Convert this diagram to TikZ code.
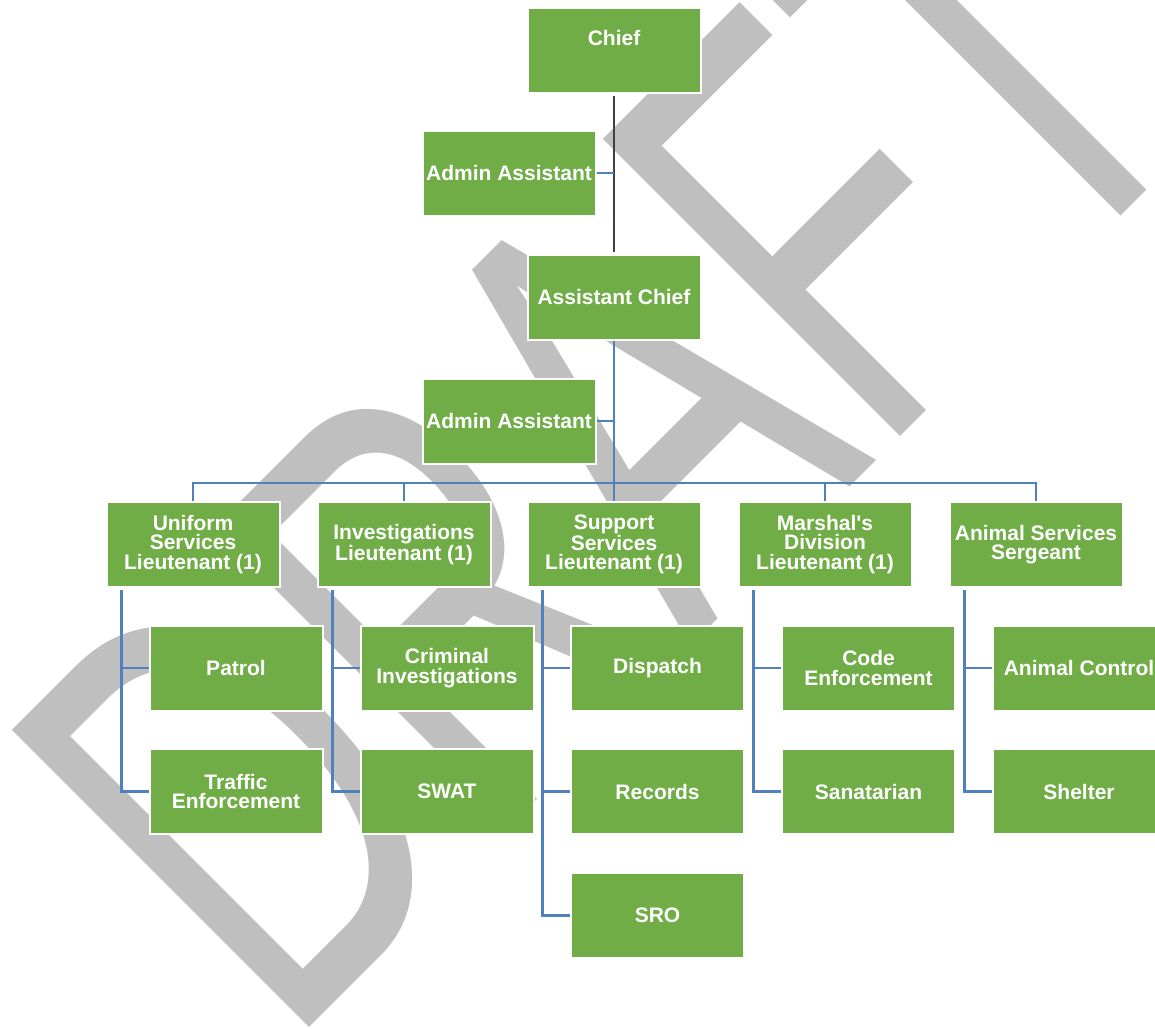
\documentclass[tikz,border=0pt]{standalone}
\usepackage{fontspec}
\usepackage{graphicx}
\setmainfont{Liberation Sans}[Ligatures=TeXOff]
\newfontfamily\markfont{Liberation Sans}[Kerning=Off]
\definecolor{boxgreen}{HTML}{70AD47}
\definecolor{linkblue}{HTML}{4F81BD}
\definecolor{trunkgray}{HTML}{404040}
\definecolor{markgray}{HTML}{BFBFBF}
\begin{document}
\begin{tikzpicture}[x=1pt,y=-1pt,
  unit/.style={rectangle, fill=boxgreen, draw=white, line width=2pt,
    minimum width=173pt, minimum height=85pt, inner sep=1pt, align=center,
    text=white, font=\fontsize{21}{19.5}\selectfont\bfseries},
  link/.style={draw=linkblue, line width=2.2pt},
  trunk/.style={draw=trunkgray, line width=2.4pt}]

\useasboundingbox (0,0) rectangle (1155,1028);

% watermark behind the chart
\begin{scope}
  \clip (0,0) rectangle (1155,1028);
  \node[rotate=45, anchor=base west, inner sep=0pt, text=markgray] (mark)
    at (286.5,1050.5) {\markfont\resizebox{1316.2pt}{420pt}{DRAFT}};
\end{scope}

% command level
\node[unit, text depth=24pt] (chief) at (614,50) {Chief};
\node[unit] (adm1) at (509,173) {Admin Assistant};
\node[unit] (asst) at (614,297) {Assistant Chief};
\node[unit] (adm2) at (509,421) {Admin Assistant};

% lieutenants and sergeant
\node[unit] (uni) at (193,544.5)  {Uniform\\Services\\Lieutenant (1)};
\node[unit] (inv) at (404,544.5)  {Investigations\\Lieutenant (1)};
\node[unit] (sup) at (614,544.5)  {Support\\Services\\Lieutenant (1)};
\node[unit] (mar) at (825,544.5)  {Marshal's\\Division\\Lieutenant (1)};
\node[unit] (ani) at (1036,544.5) {Animal Services\\Sergeant};

% units
\node[unit] (pat) at (236,668)     {Patrol};
\node[unit] (cri) at (447,668)     {Criminal\\Investigations};
\node[unit] (dis) at (657.5,668)   {Dispatch};
\node[unit] (cod) at (868.5,668)   {Code\\Enforcement};
\node[unit] (anc) at (1079,668)    {Animal Control};

\node[unit] (tra) at (236,791.5)   {Traffic\\Enforcement};
\node[unit] (swa) at (447,791.5)   {SWAT};
\node[unit] (rec) at (657.5,791.5) {Records};
\node[unit] (san) at (868.5,791.5) {Sanatarian};
\node[unit] (she) at (1079,791.5)  {Shelter};

\node[unit] (sro) at (657.5,915.5) {SRO};

% connectors
\draw[trunk, shorten <=2pt, shorten >=2pt] (chief) -- (asst);
\draw[link] (adm1.east) -- (adm1.east -| chief.south);
\draw[link] (asst.south) -- (sup.north);
\draw[link] (adm2.east) -- (adm2.east -| asst.south);

\coordinate (bus) at (614,483);
\draw[link] (uni.north) |- (bus) -| (ani.north);
\draw[link] (inv.north) -- (inv.north |- bus);
\draw[link] (mar.north) -- (mar.north |- bus);

\coordinate (uniroot) at ([xshift=16pt,yshift=-2pt]uni.south west);
\coordinate (invroot) at ([xshift=16pt,yshift=-2pt]inv.south west);
\coordinate (suproot) at ([xshift=16pt,yshift=-2pt]sup.south west);
\coordinate (marroot) at ([xshift=16pt,yshift=-2pt]mar.south west);
\coordinate (aniroot) at ([xshift=16pt,yshift=-2pt]ani.south west);

\draw[link] (uniroot) |- (pat.west);
\draw[link] (uniroot) |- (tra.west);
\draw[link] (invroot) |- (cri.west);
\draw[link] (invroot) |- (swa.west);
\draw[link] (suproot) |- (dis.west);
\draw[link] (suproot) |- (rec.west);
\draw[link] (suproot) |- (sro.west);
\draw[link] (marroot) |- (cod.west);
\draw[link] (marroot) |- (san.west);
\draw[link] (aniroot) |- (anc.west);
\draw[link] (aniroot) |- (she.west);
\end{tikzpicture}
\end{document}
